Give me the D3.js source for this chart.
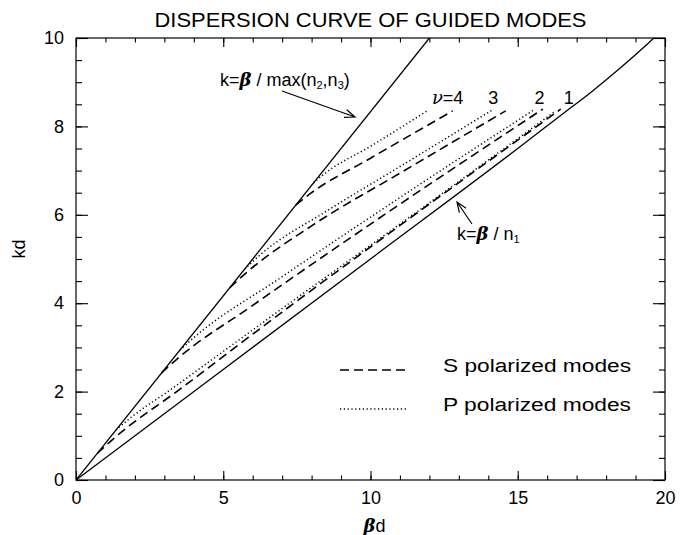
<!DOCTYPE html>
<html>
<head>
<meta charset="utf-8">
<script src="https://cdn.jsdelivr.net/npm/d3@7"></script>
<style>
  html, body { margin: 0; padding: 0; background: #fff; }
  svg { display: block; }
  text { font-family: "Liberation Sans", Arial, sans-serif; fill: #000; }
</style>
</head>
<body>
<svg id="chart" width="686" height="535"></svg>
<script>
// ---------------- data ----------------
const betaTicks = [0, 5, 10, 15, 20];
const betaMinor = [0,1,2,3,4,5,6,7,8,9,10,11,12,13,14,15,16,17,18,19,20];
const kTicks = [0, 2, 4, 6, 8, 10];
const kMinor = [0,0.5,1,1.5,2,2.5,3,3.5,4,4.5,5,5.5,6,6.5,7,7.5,8,8.5,9,9.5,10];

// light lines
const cladLine = [[0, 0], [12, 10]];                  // k = beta / max(n2,n3)
const coreLine = [[0, 0], [10, 5], [15, 7.5], [16.5, 8.27], [17.5, 8.78], [18.5, 9.33], [19.3, 9.8], [19.75, 10.08]]; // k = beta / n1

// S polarized modes (dashed)
const s1 = [[0.72, 0.6], [1.3, 0.95], [3.5, 2.04], [7, 3.8], [11.02, 5.77], [16.46, 8.39]];
const s2 = [[2.9, 2.42], [3.4, 2.72], [6, 3.95], [11.02, 6.25], [15.85, 8.39]];
const s3 = [[5.22, 4.35], [5.8, 4.7], [8, 5.75], [11.02, 6.95], [14.59, 8.35]];
const s4 = [[7.46, 6.22], [8.0, 6.5], [10, 7.28], [12.79, 8.35]];
// P polarized modes (dotted)
const p1 = [[1.36, 1.13], [1.8, 1.38], [3.2, 2.04], [7, 3.88], [11.02, 5.8], [16.29, 8.35]];
const p2 = [[3.53, 2.94], [4.0, 3.22], [7, 4.6], [11.02, 6.4], [15.54, 8.37]];
const p3 = [[5.82, 4.83], [6.3, 5.12], [8.5, 6.08], [11.02, 7.1], [14.18, 8.39]];
const p4 = [[8.06, 6.72], [8.5, 6.96], [10, 7.55], [11.97, 8.37]];

const sModes = [s1, s2, s3, s4];
const pModes = [p1, p2, p3, p4];
const modeNumbers = ["4", "3", "2", "1"];
const modeLabelBeta = [12.95, 14.17, 15.74, 16.73];
const legendLabels = ["S polarized modes", "P polarized modes"];

// ---------------- chart ----------------
const svg = d3.select("#chart");
svg.append("rect").attr("width", 686).attr("height", 535).attr("fill", "#fff");

const x = d3.scaleLinear().domain([0, 20]).range([76, 665]);
const y = d3.scaleLinear().domain([0, 10]).range([480, 38]);

const [x0, x1] = x.range();
const [y0, y1] = y.range();

const line = d3.line().x(d => x(d[0])).y(d => y(d[1])).curve(d3.curveMonotoneX);
const DASH = "9,5", DOT = "1.2,2.6";

// axes
function styleAxis(g) {
  g.select(".domain").remove();
  g.selectAll("line").attr("stroke", "#000").attr("stroke-width", 1.1);
  g.selectAll("text").style("font-size", "18px").style("font-family", '"Liberation Sans", Arial, sans-serif').attr("fill", "#000");
}
svg.append("g").attr("transform", `translate(0,${y0})`)
  .call(d3.axisBottom(x).tickValues(betaTicks).tickSize(-9).tickPadding(11).tickFormat(d3.format("d"))).call(styleAxis);
svg.append("g").attr("transform", `translate(0,${y0})`)
  .call(d3.axisBottom(x).tickValues(betaMinor).tickSize(-4.5).tickFormat("")).call(styleAxis);
svg.append("g").attr("transform", `translate(0,${y1})`)
  .call(d3.axisTop(x).tickValues(betaTicks).tickSize(-9).tickFormat("")).call(styleAxis);
svg.append("g").attr("transform", `translate(0,${y1})`)
  .call(d3.axisTop(x).tickValues(betaMinor).tickSize(-4.5).tickFormat("")).call(styleAxis);
svg.append("g").attr("transform", `translate(${x0},0)`)
  .call(d3.axisLeft(y).tickValues(kTicks).tickSize(-12).tickPadding(12).tickFormat(d3.format("d"))).call(styleAxis);
svg.append("g").attr("transform", `translate(${x0},0)`)
  .call(d3.axisLeft(y).tickValues(kMinor).tickSize(-6).tickFormat("")).call(styleAxis);
svg.append("g").attr("transform", `translate(${x1},0)`)
  .call(d3.axisRight(y).tickValues(kTicks).tickSize(-12).tickFormat("")).call(styleAxis);
svg.append("g").attr("transform", `translate(${x1},0)`)
  .call(d3.axisRight(y).tickValues(kMinor).tickSize(-6).tickFormat("")).call(styleAxis);

svg.append("rect").attr("x", x0).attr("y", y1).attr("width", x1 - x0).attr("height", y0 - y1)
  .attr("fill", "none").attr("stroke", "#000").attr("stroke-width", 1.2);

// clip
svg.append("clipPath").attr("id", "clip").append("rect")
  .attr("x", x0).attr("y", y1).attr("width", x1 - x0).attr("height", y0 - y1);
const plot = svg.append("g").attr("clip-path", "url(#clip)");

plot.append("path").datum(cladLine).attr("d", d3.line().x(d => x(d[0])).y(d => y(d[1])))
  .attr("fill", "none").attr("stroke", "#000").attr("stroke-width", 1.3);
plot.append("path").datum(coreLine).attr("d", line)
  .attr("fill", "none").attr("stroke", "#000").attr("stroke-width", 1.3);

plot.selectAll(".smode").data(sModes).join("path").attr("class", "smode").attr("d", line)
  .attr("fill", "none").attr("stroke", "#000").attr("stroke-width", 1.6).attr("stroke-dasharray", DASH);
plot.selectAll(".pmode").data(pModes).join("path").attr("class", "pmode").attr("d", line)
  .attr("fill", "none").attr("stroke", "#000").attr("stroke-width", 1.5).attr("stroke-dasharray", DOT);

// title
svg.append("text").attr("x", (x0 + x1) / 2).attr("y", 27).attr("text-anchor", "middle")
  .style("font-size", "21px").attr("textLength", 432).attr("lengthAdjust", "spacingAndGlyphs")
  .text("DISPERSION CURVE OF GUIDED MODES");

// axis titles
const xt = svg.append("text").attr("x", (x0 + x1) / 2 + 4).attr("y", 532).attr("text-anchor", "middle").style("font-size", "18px");
xt.append("tspan").style("font-weight", "bold").style("font-style", "italic").style("font-family", '"DejaVu Serif", serif').text("β");
xt.append("tspan").text("d");
svg.append("text").attr("transform", `translate(25,${(y0 + y1) / 2 - 10}) rotate(-90)`).attr("text-anchor", "middle")
  .style("font-size", "18px").text("kd");

// mode numbers
const ml = svg.append("g");
modeNumbers.forEach((m, i) => {
  const t = ml.append("text").attr("x", x(modeLabelBeta[i])).attr("y", 104).attr("text-anchor", "middle").style("font-size", "18px");
  if (i === 0) {
    t.attr("text-anchor", "end");
    t.append("tspan").style("font-style", "italic").style("font-family", '"DejaVu Serif", serif').text("ν");
    t.append("tspan").text("=4");
    t.attr("x", x(modeLabelBeta[i]) + 6);
  } else {
    t.text(m);
  }
});

// annotation labels
function betaLabel(g, xx, yy, parts) {
  const t = g.append("text").attr("x", xx).attr("y", yy).style("font-size", "18px");
  parts.forEach(p => {
    const s = t.append("tspan").text(p.t);
    if (p.beta) s.style("font-weight", "bold").style("font-style", "italic").style("font-family", '"DejaVu Serif", serif');
    if (p.sub) s.style("font-size", "11px").attr("dy", p.dy);
    if (p.up) s.attr("dy", p.up);
  });
  return t;
}
betaLabel(svg, 220, 86, [
  {t: "k="}, {t: "β", beta: true}, {t: " / max(n"}, {t: "2", sub: true, dy: 3}, {t: ",n", up: -3},
  {t: "3", sub: true, dy: 3}, {t: ")", up: -3}
]);
betaLabel(svg, 457, 240, [
  {t: "k="}, {t: "β", beta: true}, {t: " / n"}, {t: "1", sub: true, dy: 3}
]);

// arrows
function arrow(xa, ya, xb, yb) {
  const ang = Math.atan2(yb - ya, xb - xa);
  const L = 11, a = 0.38;
  const p = d3.path();
  p.moveTo(xa, ya); p.lineTo(xb, yb);
  p.moveTo(xb - L * Math.cos(ang - a), yb - L * Math.sin(ang - a));
  p.lineTo(xb, yb);
  p.lineTo(xb - L * Math.cos(ang + a), yb - L * Math.sin(ang + a));
  svg.append("path").attr("d", p.toString()).attr("fill", "none").attr("stroke", "#000").attr("stroke-width", 1.2);
}
arrow(282, 91, 355, 117);
arrow(472, 224, 457, 202);

// legend
const legY = [370, 409];
const leg = svg.append("g");
legendLabels.forEach((lab, i) => {
  leg.append("line").attr("x1", 340).attr("x2", 408).attr("y1", legY[i]).attr("y2", legY[i])
    .attr("stroke", "#000").attr("stroke-width", i === 0 ? 1.6 : 1.5)
    .attr("stroke-dasharray", i === 0 ? DASH : DOT);
  leg.append("text").attr("x", 443).attr("y", legY[i] + 2).style("font-size", "18px")
    .attr("textLength", 188).attr("lengthAdjust", "spacingAndGlyphs").text(lab);
});
</script>
</body>
</html>
